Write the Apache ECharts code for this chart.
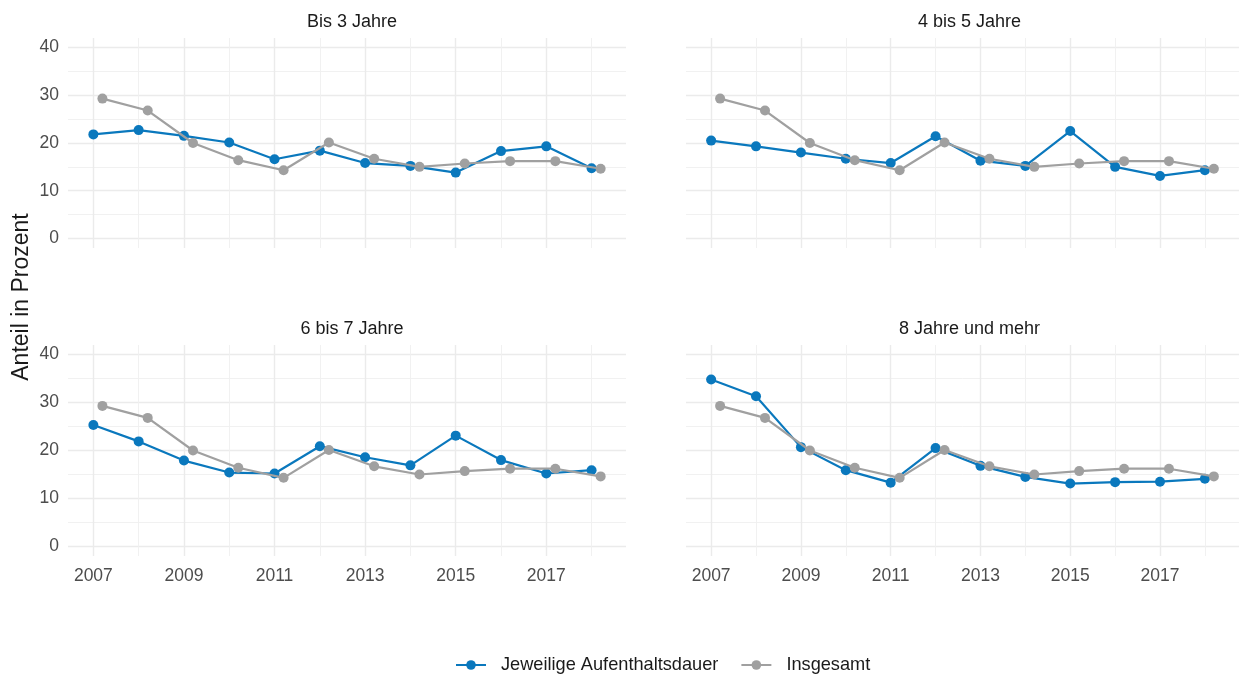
<!DOCTYPE html>
<html>
<head>
<meta charset="utf-8">
<title>Anteil in Prozent</title>
<script src="https://cdn.jsdelivr.net/npm/echarts@6/dist/echarts.min.js"></script>
<style>
    html, body { margin: 0; padding: 0; background: #fff; }
    #chart { width: 1239px; height: 677px; }
</style>
</head>
<body>
<div id="chart"></div>
<script>
var years = [2007, 2008, 2009, 2010, 2011, 2012, 2013, 2014, 2015, 2016, 2017, 2018];
var panelTitles = ['Bis 3 Jahre', '4 bis 5 Jahre', '6 bis 7 Jahre', '8 Jahre und mehr'];
var seriesNames = ['Jeweilige Aufenthaltsdauer', 'Insgesamt'];

var insgesamt = [29.3, 26.8, 20.0, 16.4, 14.3, 20.1, 16.7, 15.0, 15.7, 16.2, 16.2, 14.6];
var bis3 = [21.8, 22.7, 21.5, 20.1, 16.6, 18.4, 15.8, 15.2, 13.8, 18.3, 19.3, 14.7];
var bis5 = [20.5, 19.3, 18.0, 16.7, 15.8, 21.4, 16.3, 15.2, 22.5, 15.0, 13.1, 14.3];
var bis7 = [25.3, 21.9, 17.9, 15.4, 15.2, 20.9, 18.6, 16.9, 23.1, 18.0, 15.2, 15.9];
var ab8 = [34.8, 31.3, 20.7, 15.9, 13.3, 20.5, 16.8, 14.5, 13.1, 13.4, 13.5, 14.1];

var xMajor = [2007, 2009, 2011, 2013, 2015, 2017];
var xMinor = [2008, 2010, 2012, 2014, 2016, 2018];
var yMajor = [0, 10, 20, 30, 40];
var yMinor = [5, 15, 25, 35];

(function () {
    'use strict';

    var BLUE = '#0a78bd';
    var GREY = '#a0a0a0';
    var FONT = 'Liberation Sans, Arial, sans-serif';
    var DODGE = 0.2;   // "Insgesamt" sits slightly right of each year

    var panels = [bis3, bis5, bis7, ab8];
    var grids = [
        { left: 68, top: 38, width: 558, height: 210 },
        { left: 686, top: 38, width: 557, height: 210 },
        { left: 68, top: 345, width: 558, height: 211 },
        { left: 686, top: 345, width: 557, height: 211 }
    ];

    function pairs(xs, ys, shift) {
        return xs.map(function (x, i) { return [x + shift, ys[i]]; });
    }

    var xAxes = [], yAxes = [], series = [], titles = [];
    var gridLine = { show: true, lineStyle: { color: '#ebebeb', width: 1.4 } };
    var minorLine = { show: true, lineStyle: { color: '#efefef', width: 0.9 } };

    grids.forEach(function (g, p) {
        var bottomRow = p >= 2, leftCol = p % 2 === 0;

        // minor grid first, major on top
        xAxes.push({
            type: 'value', gridIndex: p, position: 'bottom', min: 2006.44, max: 2018.76,
            axisLine: { show: false }, axisTick: { show: false, customValues: xMinor },
            axisLabel: { show: false, customValues: xMinor }, splitLine: minorLine
        });
        xAxes.push({
            type: 'value', gridIndex: p, position: 'bottom', min: 2006.44, max: 2018.76,
            axisLine: { show: false }, axisTick: { show: false, customValues: xMajor },
            axisLabel: {
                show: bottomRow, customValues: xMajor, color: '#4d4d4d',
                fontSize: 17.5, fontFamily: FONT, margin: 11,
                formatter: function (v) { return String(v); }
            },
            splitLine: gridLine
        });
        yAxes.push({
            type: 'value', gridIndex: p, position: 'left', min: -2, max: 42,
            axisLine: { show: false }, axisTick: { show: false, customValues: yMinor },
            axisLabel: { show: false, customValues: yMinor }, splitLine: minorLine
        });
        yAxes.push({
            type: 'value', gridIndex: p, position: 'left', min: -2, max: 42,
            axisLine: { show: false }, axisTick: { show: false, customValues: yMajor },
            axisLabel: {
                show: leftCol, customValues: yMajor, color: '#4d4d4d',
                fontSize: 17.5, fontFamily: FONT, margin: 9
            },
            splitLine: gridLine
        });

        titles.push({
            text: panelTitles[p],
            left: g.left + g.width / 2,
            top: g.top - 30,
            textAlign: 'center',
            textStyle: { fontSize: 18, fontWeight: 'normal', color: '#1a1a1a', fontFamily: FONT }
        });

        var ax = p * 2 + 1;
        [[panels[p], 0, BLUE], [insgesamt, DODGE, GREY]].forEach(function (s, k) {
            series.push({
                name: seriesNames[k], type: 'line',
                xAxisIndex: ax, yAxisIndex: ax,
                data: pairs(years, s[0], s[1]),
                symbol: 'circle', symbolSize: 10, showSymbol: true,
                color: s[2],
                lineStyle: { color: s[2], width: 2.2 },
                itemStyle: { color: s[2] },
                z: 3 + k,
                animation: false
            });
        });
    });

    var chart = echarts.init(document.getElementById('chart'));
    chart.setOption({
        backgroundColor: '#ffffff',
        animation: false,
        title: titles,
        grid: grids,
        xAxis: xAxes,
        yAxis: yAxes,
        series: series,
        legend: {
            data: seriesNames,
            top: 651,
            left: 450,
            itemWidth: 30,
            itemHeight: 12,
            itemGap: 22,
            textStyle: { fontSize: 18.2, color: '#1a1a1a', fontFamily: FONT, padding: [0, 0, 0, 10] }
        },
        graphic: [{
            type: 'text',
            x: 22, y: 297,
            rotation: Math.PI / 2,
            style: {
                text: 'Anteil in Prozent',
                fontSize: 23,
                fontFamily: FONT,
                fill: '#1a1a1a',
                align: 'center',
                verticalAlign: 'middle'
            }
        }]
    });
})();
</script>
</body>
</html>
